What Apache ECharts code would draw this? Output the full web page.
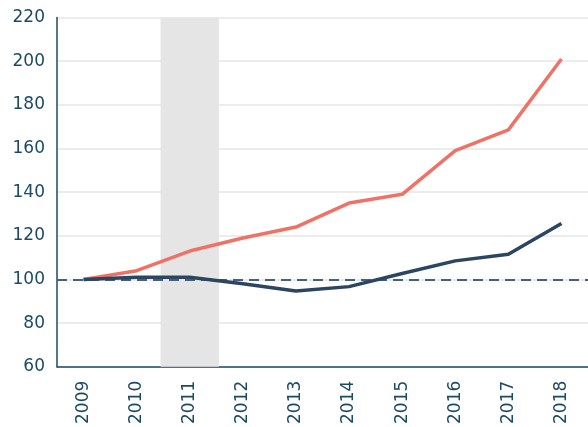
<!DOCTYPE html>
<html><head><meta charset="utf-8">
<script src="https://cdn.jsdelivr.net/npm/echarts@6/dist/echarts.min.js"></script>
<style>html,body{margin:0;padding:0;background:#fff}#c{width:588px;height:427px}</style>
</head><body><div id="c"></div>
<script>
const years = ['2009','2010','2011','2012','2013','2014','2015','2016','2017','2018'];
const seriesRed = [100, 104, 113, 119, 124, 135, 139, 159, 168.5, 201];
const seriesDark = [100, 101, 101, 98, 94.7, 96.7, 102.7, 108.5, 111.5, 125.6];
const baseline = 100;
const shadedBand = [2010.45, 2011.55];
const yTicks = {min: 60, max: 220, interval: 20};

const labelColor = '#1d4a63';
const chart = echarts.init(document.getElementById('c'));
chart.setOption({
  animation: false,
  grid: {left: 57, right: 0, top: 17.5, bottom: 59, containLabel: false},
  xAxis: [{
    type: 'category', data: years, boundaryGap: true,
    axisLine: {lineStyle: {color: '#1d4a63', width: 1.5}},
    axisTick: {show: false},
    axisLabel: {rotate: 90, color: labelColor, fontFamily: 'DejaVu Sans', fontSize: 17, margin: 14},
    splitLine: {show: false}
  }, {
    type: 'value', show: false, min: 2008.5, max: 2018.5
  }],
  yAxis: {
    type: 'value', min: yTicks.min, max: yTicks.max, interval: yTicks.interval,
    axisLine: {show: true, lineStyle: {color: '#1d4a63', width: 1.5}},
    axisTick: {show: false},
    axisLabel: {color: labelColor, fontFamily: 'DejaVu Sans', fontSize: 17, margin: 12},
    splitLine: {lineStyle: {color: '#e6e6e6', width: 1.5}}
  },
  series: [{
    type: 'line', xAxisIndex: 1, data: [], silent: true,
    markArea: {silent: true, itemStyle: {color: '#e5e5e5'}, data: [[{xAxis: shadedBand[0]}, {xAxis: shadedBand[1]}]]}
  }, {
    type: 'line', data: seriesRed, symbol: 'none', z: 3,
    lineStyle: {color: '#ef7267', width: 3.5}
  }, {
    type: 'line', data: seriesDark, symbol: 'none', z: 4,
    lineStyle: {color: '#2c4560', width: 3.5},
    markLine: {silent: true, symbol: 'none', label: {show: false}, z: 2,
      lineStyle: {color: '#41627a', type: [10, 6], width: 2},
      data: [{yAxis: baseline}]}
  }]
});
</script></body></html>
